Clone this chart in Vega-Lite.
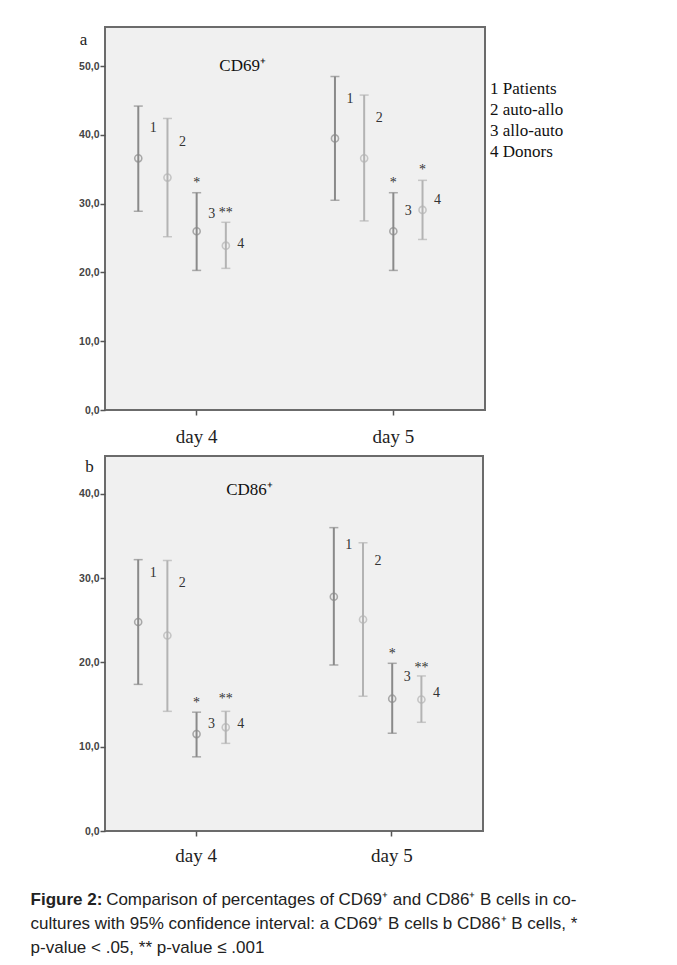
{
  "$schema": "https://vega.github.io/schema/vega-lite/v6.json",
  "background": "white",
  "padding": {"left": 30, "top": 26, "right": 10, "bottom": 5},
  "datasets": {
    "cd69": [
      {"day": "day 4", "group": "1 Patients", "num": "1", "lo": 28.9, "mean": 36.6, "hi": 44.2, "lab": 41.0, "star": "", "star_y": null},
      {"day": "day 4", "group": "2 auto-allo", "num": "2", "lo": 25.2, "mean": 33.8, "hi": 42.4, "lab": 39.0, "star": "", "star_y": null},
      {"day": "day 4", "group": "3 allo-auto", "num": "3", "lo": 20.3, "mean": 26.0, "hi": 31.6, "lab": 28.5, "star": "*", "star_y": 33.4},
      {"day": "day 4", "group": "4 Donors", "num": "4", "lo": 20.6, "mean": 23.9, "hi": 27.3, "lab": 24.1, "star": "**", "star_y": 29.1},
      {"day": "day 5", "group": "1 Patients", "num": "1", "lo": 30.5, "mean": 39.5, "hi": 48.5, "lab": 45.3, "star": "", "star_y": null},
      {"day": "day 5", "group": "2 auto-allo", "num": "2", "lo": 27.5, "mean": 36.6, "hi": 45.8, "lab": 42.4, "star": "", "star_y": null},
      {"day": "day 5", "group": "3 allo-auto", "num": "3", "lo": 20.3, "mean": 26.0, "hi": 31.6, "lab": 28.9, "star": "*", "star_y": 33.5},
      {"day": "day 5", "group": "4 Donors", "num": "4", "lo": 24.8, "mean": 29.1, "hi": 33.4, "lab": 30.5, "star": "*", "star_y": 35.4}
    ],
    "cd86": [
      {"day": "day 4", "group": "1 Patients", "num": "1", "lo": 17.4, "mean": 24.8, "hi": 32.2, "lab": 30.6, "star": "", "star_y": null},
      {"day": "day 4", "group": "2 auto-allo", "num": "2", "lo": 14.2, "mean": 23.2, "hi": 32.1, "lab": 29.4, "star": "", "star_y": null},
      {"day": "day 4", "group": "3 allo-auto", "num": "3", "lo": 8.8, "mean": 11.5, "hi": 14.1, "lab": 12.7, "star": "*", "star_y": 15.5},
      {"day": "day 4", "group": "4 Donors", "num": "4", "lo": 10.4, "mean": 12.3, "hi": 14.2, "lab": 12.7, "star": "**", "star_y": 16.0},
      {"day": "day 5", "group": "1 Patients", "num": "1", "lo": 19.7, "mean": 27.8, "hi": 36.0, "lab": 33.9, "star": "", "star_y": null},
      {"day": "day 5", "group": "2 auto-allo", "num": "2", "lo": 16.0, "mean": 25.1, "hi": 34.2, "lab": 32.0, "star": "", "star_y": null},
      {"day": "day 5", "group": "3 allo-auto", "num": "3", "lo": 11.6, "mean": 15.7, "hi": 19.9, "lab": 18.3, "star": "*", "star_y": 21.4},
      {"day": "day 5", "group": "4 Donors", "num": "4", "lo": 12.9, "mean": 15.6, "hi": 18.4, "lab": 16.4, "star": "**", "star_y": 19.7}
    ]
  },
  "title": {
    "text": "Figure 2:",
    "subtitle": [
      "\u200b\u00a0\u00a0\u00a0\u00a0\u00a0\u00a0\u00a0\u00a0\u00a0\u00a0\u00a0\u00a0\u00a0\u00a0\u00a0\u00a0Comparison of percentages of CD69⁺ and CD86⁺ B cells in co-",
      "cultures with 95% confidence interval: a CD69⁺ B cells b CD86⁺ B cells, *",
      "p-value < .05, ** p-value ≤ .001"
    ],
    "orient": "bottom",
    "anchor": "start",
    "frame": "bounds",
    "offset": 26,
    "dx": -47,
    "font": "Liberation Sans",
    "fontSize": 17,
    "fontWeight": "bold",
    "color": "#222",
    "subtitleFont": "Liberation Sans",
    "subtitleFontSize": 17,
    "subtitleFontWeight": "normal",
    "subtitleColor": "#222",
    "subtitleLineHeight": 24,
    "subtitlePadding": -17
  },
  "spacing": 8,
  "resolve": {"legend": {"color": "independent"}},
  "vconcat": [
    {
      "width": 380,
      "height": 383,
      "data": {"name": "cd69"},
      "encoding": {
        "x": {"field": "day", "type": "nominal", "title": null, "scale": {"paddingInner": 0.258, "paddingOuter": 0.095}, "axis": {"labelPadding": 12}},
        "xOffset": {"field": "group", "type": "nominal", "scale": {"domain": ["1 Patients", "2 auto-allo", "3 allo-auto", "4 Donors", "5"], "paddingInner": 0, "paddingOuter": 0}},
        "color": {
          "field": "group", "type": "nominal",
          "scale": {"domain": ["1 Patients", "2 auto-allo", "3 allo-auto", "4 Donors"], "range": ["#8a8a8a", "#b3b3b3", "#8a8a8a", "#b3b3b3"]},
          "legend": {"title": null, "orient": "none", "legendX": 368, "legendY": 53, "symbolSize": 0, "symbolStrokeWidth": 0, "symbolOpacity": 0, "labelOffset": 0, "labelFont": "Liberation Serif", "labelFontSize": 17, "labelColor": "#111", "rowPadding": 3, "padding": 0}
        }
      },
      "layer": [
        {
          "mark": {"type": "rule", "strokeWidth": 2},
          "encoding": {
            "y": {"field": "lo", "type": "quantitative", "scale": {"domain": [0, 55.7], "nice": false},
              "axis": {"title": "a", "titleAngle": 0, "titleX": -22, "titleY": 12, "titleAlign": "center", "titleBaseline": "middle", "titleFont": "Liberation Serif", "titleFontSize": 17, "titleFontWeight": "normal", "titleColor": "#222", "values": [0, 10, 20, 30, 40, 50], "labelExpr": "replace(format(datum.value, '.1f'), '.', ',')"}},
            "y2": {"field": "hi"}
          }
        },
        {"mark": {"type": "tick", "size": 9, "thickness": 1.5}, "encoding": {"y": {"field": "lo", "type": "quantitative", "axis": {"title": "a"}}}},
        {"mark": {"type": "tick", "size": 9, "thickness": 1.5}, "encoding": {"y": {"field": "hi", "type": "quantitative", "axis": {"title": "a"}}}},
        {"mark": {"type": "point", "shape": "circle", "filled": false, "size": 50, "strokeWidth": 1.6}, "encoding": {"y": {"field": "mean", "type": "quantitative", "axis": {"title": "a"}}}},
        {"mark": {"type": "text", "dx": 15, "font": "Liberation Serif", "fontSize": 14}, "encoding": {"y": {"field": "lab", "type": "quantitative", "axis": {"title": "a"}}, "text": {"field": "num"}, "color": {"value": "#333"}}},
        {"transform": [{"filter": "datum.star != ''"}], "mark": {"type": "text", "dy": 3, "font": "Liberation Serif", "fontSize": 14}, "encoding": {"y": {"field": "star_y", "type": "quantitative", "axis": {"title": "a"}}, "text": {"field": "star"}, "color": {"value": "#333"}}},
        {"data": {"values": [{}]}, "mark": {"type": "text", "text": "CD69⁺", "dx": 46, "font": "Liberation Serif", "fontSize": 17}, "encoding": {"x": {"datum": "day 4"}, "xOffset": {"datum": "3 allo-auto"}, "y": {"datum": 50}, "color": {"value": "#111"}}}
      ]
    },
    {
      "width": 378,
      "height": 375,
      "data": {"name": "cd86"},
      "encoding": {
        "x": {"field": "day", "type": "nominal", "title": null, "scale": {"paddingInner": 0.258, "paddingOuter": 0.095}, "axis": {"labelPadding": 10}},
        "xOffset": {"field": "group", "type": "nominal", "scale": {"domain": ["1 Patients", "2 auto-allo", "3 allo-auto", "4 Donors", "5"], "paddingInner": 0, "paddingOuter": 0}},
        "color": {
          "field": "group", "type": "nominal",
          "scale": {"domain": ["1 Patients", "2 auto-allo", "3 allo-auto", "4 Donors"], "range": ["#8a8a8a", "#b3b3b3", "#8a8a8a", "#b3b3b3"]},
          "legend": null
        }
      },
      "layer": [
        {
          "mark": {"type": "rule", "strokeWidth": 2},
          "encoding": {
            "y": {"field": "lo", "type": "quantitative", "scale": {"domain": [0, 44.5], "nice": false},
              "axis": {"title": "b", "titleAngle": 0, "titleX": -16, "titleY": 10, "titleAlign": "center", "titleBaseline": "middle", "titleFont": "Liberation Serif", "titleFontSize": 17, "titleFontWeight": "normal", "titleColor": "#222", "values": [0, 10, 20, 30, 40], "labelExpr": "replace(format(datum.value, '.1f'), '.', ',')"}},
            "y2": {"field": "hi"}
          }
        },
        {"mark": {"type": "tick", "size": 9, "thickness": 1.5}, "encoding": {"y": {"field": "lo", "type": "quantitative", "axis": {"title": "b"}}}},
        {"mark": {"type": "tick", "size": 9, "thickness": 1.5}, "encoding": {"y": {"field": "hi", "type": "quantitative", "axis": {"title": "b"}}}},
        {"mark": {"type": "point", "shape": "circle", "filled": false, "size": 50, "strokeWidth": 1.6}, "encoding": {"y": {"field": "mean", "type": "quantitative", "axis": {"title": "b"}}}},
        {"mark": {"type": "text", "dx": 15, "font": "Liberation Serif", "fontSize": 14}, "encoding": {"y": {"field": "lab", "type": "quantitative", "axis": {"title": "b"}}, "text": {"field": "num"}, "color": {"value": "#333"}}},
        {"transform": [{"filter": "datum.star != ''"}], "mark": {"type": "text", "dy": 3, "font": "Liberation Serif", "fontSize": 14}, "encoding": {"y": {"field": "star_y", "type": "quantitative", "axis": {"title": "b"}}, "text": {"field": "star"}, "color": {"value": "#333"}}},
        {"data": {"values": [{}]}, "mark": {"type": "text", "text": "CD86⁺", "dx": 53, "font": "Liberation Serif", "fontSize": 17}, "encoding": {"x": {"datum": "day 4"}, "xOffset": {"datum": "3 allo-auto"}, "y": {"datum": 40.5}, "color": {"value": "#111"}}}
      ]
    }
  ],
  "config": {
    "view": {"fill": "#f0f0f0", "stroke": "#6b6b6b", "strokeWidth": 2},
    "axis": {"domain": false, "grid": false, "tickColor": "#555", "tickSize": 5, "tickWidth": 1.5, "labelColor": "#444", "labelFont": "Liberation Sans", "labelFontSize": 10.5, "labelFontWeight": "bold", "labelPadding": 1},
    "axisX": {"labelFont": "Liberation Serif", "labelFontSize": 19, "labelFontWeight": "normal", "labelColor": "#222", "labelAngle": 0, "labelBaseline": "top"}
  }
}
